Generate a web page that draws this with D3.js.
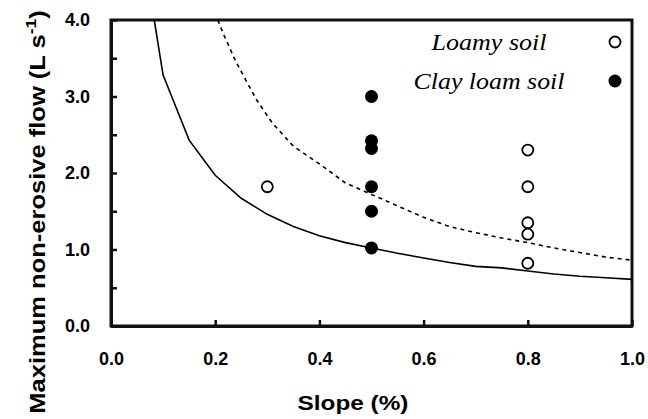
<!DOCTYPE html>
<html lang="en">
<head>
    <meta charset="UTF-8">
    <title>Maximum non-erosive flow vs slope</title>
    <script src="https://d3js.org/d3.v7.min.js"></script>
</head>
<body style="margin:0">
    <svg id="chart" width="648" height="419"></svg>

    <script>
        // Observed data
        const loamySlope = [0.3, 0.8, 0.8, 0.8, 0.8, 0.8];
        const loamyFlow  = [1.82, 2.30, 1.82, 1.35, 1.20, 0.82];
        const claySlope  = [0.5, 0.5, 0.5, 0.5, 0.5, 0.5];
        const clayFlow   = [3.00, 2.42, 2.32, 1.82, 1.50, 1.02];

        // Fitted curves (starting where they enter the plot)
        const solidSlope = [0.083, 0.1, 0.15, 0.2, 0.25, 0.3, 0.35, 0.4, 0.45, 0.5, 0.55, 0.6, 0.65, 0.7, 0.75, 0.8, 0.85, 0.9, 0.95, 1.0];
        const solidFlow  = [4.0, 3.28, 2.43, 1.97, 1.67, 1.46, 1.30, 1.18, 1.09, 1.02, 0.95, 0.89, 0.83, 0.78, 0.76, 0.72, 0.68, 0.65, 0.63, 0.61];
        const dashSlope  = [0.205, 0.215, 0.24, 0.28, 0.31, 0.35, 0.4, 0.45, 0.5, 0.55, 0.6, 0.65, 0.7, 0.75, 0.8, 0.85, 0.9, 0.95, 1.0];
        const dashFlow   = [4.0, 3.83, 3.45, 2.95, 2.65, 2.35, 2.12, 1.87, 1.72, 1.57, 1.42, 1.30, 1.22, 1.15, 1.09, 1.02, 0.96, 0.90, 0.86];

        const xTicks = [0, 0.2, 0.4, 0.6, 0.8, 1.0];
        const yTicks = [0, 1, 2, 3, 4];
        const yMinor = [0.5, 1.5, 2.5, 3.5];

        const svg = d3.select("#chart");
        const margin = { top: 20, right: 16, bottom: 93, left: 111 };
        const width = 648 - margin.left - margin.right;
        const height = 419 - margin.top - margin.bottom;

        const x = d3.scaleLinear().domain([0, 1]).range([0, width]);
        const y = d3.scaleLinear().domain([0, 4]).range([height, 0]);

        const g = svg.append("g")
            .attr("transform", `translate(${margin.left},${margin.top})`);

        // frame first, so everything else sits on top of it
        g.append("path")
            .attr("d", d3.line()([[x(0), y(4)], [x(1), y(4)], [x(1), y(0)], [x(0), y(0)], [x(0), y(4)]]))
            .attr("fill", "none")
            .attr("stroke", "#111")
            .attr("stroke-width", 3)
            .attr("stroke-linejoin", "miter")
            .attr("stroke-linecap", "square");

        const line = d3.line().x(d => x(d[0])).y(d => y(d[1]));

        g.append("path")
            .datum(d3.zip(solidSlope, solidFlow))
            .attr("d", line)
            .attr("fill", "none")
            .attr("stroke", "#000")
            .attr("stroke-width", 1.6);

        g.append("path")
            .datum(d3.zip(dashSlope, dashFlow))
            .attr("d", line)
            .attr("fill", "none")
            .attr("stroke", "#000")
            .attr("stroke-width", 1.6)
            .attr("stroke-dasharray", "4,4");

        // axes, ticks pointing inward
        const xAxis = g.append("g")
            .attr("transform", `translate(0,${height})`)
            .call(d3.axisBottom(x).tickValues(xTicks).tickSizeInner(-6).tickSizeOuter(0)
                .tickFormat(d3.format(".1f")).tickPadding(26));
        const yAxis = g.append("g")
            .call(d3.axisLeft(y).tickValues(yTicks.concat(yMinor)).tickSizeInner(-6).tickSizeOuter(0)
                .tickFormat(d => Number.isInteger(d) ? d3.format(".1f")(d) : "").tickPadding(21));

        [xAxis, yAxis].forEach(ax => {
            ax.select(".domain")
                .attr("stroke", "#111")
                .attr("stroke-width", 3);
            ax.selectAll(".tick line")
                .attr("stroke", "#111")
                .attr("stroke-width", 2.5);
            ax.selectAll("text")
                .attr("font-family", "Liberation Sans, Arial, sans-serif")
                .attr("font-weight", "bold")
                .attr("font-size", 18)
                .attr("fill", "#000");
        });

        // points
        g.append("g")
            .selectAll("circle")
            .data(d3.zip(loamySlope, loamyFlow))
            .join("circle")
            .attr("cx", d => x(d[0]))
            .attr("cy", d => y(d[1]))
            .attr("r", 5.5)
            .attr("fill", "#fff")
            .attr("stroke", "#000")
            .attr("stroke-width", 1.8);

        g.append("g")
            .selectAll("circle")
            .data(d3.zip(claySlope, clayFlow))
            .join("circle")
            .attr("cx", d => x(d[0]))
            .attr("cy", d => y(d[1]))
            .attr("r", 6.5)
            .attr("fill", "#000");

        // legend
        const legend = [
            { label: "Loamy soil", fill: "#fff", r: 5.5, ty: 50, cy: 42, len: 115 },
            { label: "Clay loam soil", fill: "#000", r: 6.5, ty: 89, cy: 81, len: 151 }
        ];
        const lg = svg.append("g");
        lg.selectAll("text")
            .data(legend)
            .join("text")
            .attr("x", 489)
            .attr("y", d => d.ty)
            .attr("text-anchor", "middle")
            .attr("font-family", "Liberation Serif, Times New Roman, serif")
            .attr("font-style", "italic")
            .attr("font-size", 23)
            .attr("textLength", d => d.len)
            .attr("lengthAdjust", "spacingAndGlyphs")
            .text(d => d.label);
        lg.selectAll("circle")
            .data(legend)
            .join("circle")
            .attr("cx", 615)
            .attr("cy", d => d.cy)
            .attr("r", d => d.r)
            .attr("fill", d => d.fill)
            .attr("stroke", "#000")
            .attr("stroke-width", d => d.fill === "#fff" ? 1.8 : 0);

        // axis titles
        svg.append("text")
            .attr("x", 353)
            .attr("y", 410)
            .attr("text-anchor", "middle")
            .attr("font-family", "Liberation Sans, Arial, sans-serif")
            .attr("font-weight", "bold")
            .attr("font-size", 20)
            .attr("textLength", 111)
            .attr("lengthAdjust", "spacingAndGlyphs")
            .text("Slope (%)");

        const yt = svg.append("text")
            .attr("transform", "translate(45,212) rotate(-90) scale(1.16,1)")
            .attr("text-anchor", "middle")
            .attr("font-family", "Liberation Sans, Arial, sans-serif")
            .attr("font-weight", "bold")
            .attr("font-size", 22);
        yt.append("tspan").text("Maximum non-erosive flow (L s");
        yt.append("tspan").attr("dy", -9).attr("font-size", 15).text("-1");
        yt.append("tspan").attr("dy", 9).text(")");
    </script>
</body>
</html>
